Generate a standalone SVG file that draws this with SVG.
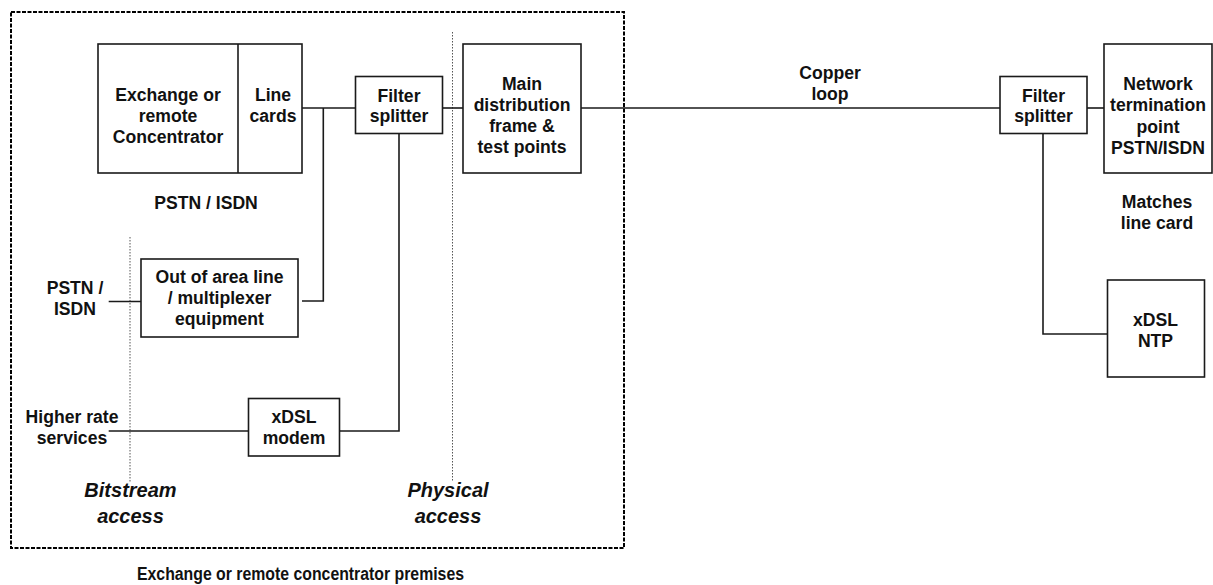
<svg xmlns="http://www.w3.org/2000/svg" width="1213" height="585" viewBox="0 0 1213 585">
<style>
.box{fill:#fff;stroke:#1a1a1a;stroke-width:1.6}
.ln{fill:none;stroke:#1a1a1a;stroke-width:1.6}
.dot{fill:none;stroke:#555;stroke-width:1;stroke-dasharray:1.5 1.5}
.frame{fill:none;stroke:#000;stroke-width:2;stroke-dasharray:4 1.5}
text{font-family:"Liberation Sans",Arial,sans-serif;font-weight:bold;font-size:17.6px;fill:#111;text-anchor:middle}
.it{font-style:italic;font-size:20px}
</style>
<rect class="frame" x="11" y="12" width="613" height="536"/>
<line class="dot" x1="130" y1="237" x2="130" y2="482"/>
<line class="dot" x1="452.5" y1="32" x2="452.5" y2="482"/>
<g id="connectors">
<polyline class="ln" points="302,108 355.5,108"/>
<polyline class="ln" points="323.3,108 323.3,301 302,301"/>
<polyline class="ln" points="443,108 463,108"/>
<polyline class="ln" points="581,108 1000,108"/>
<polyline class="ln" points="1087,108 1104,108"/>
<polyline class="ln" points="1043,133.5 1043,334 1107.5,334"/>
<polyline class="ln" points="399,133.5 399,431 339.5,431"/>
<polyline class="ln" points="108.7,431 248.5,431"/>
<polyline class="ln" points="108.7,301.5 141,301.5"/>
</g>
<g id="exchange">
<rect class="box" x="98" y="44" width="204" height="129"/>
<line class="ln" x1="238" y1="44" x2="238" y2="173"/>
<text x="168" y="100.5">Exchange or</text>
<text x="168" y="121.5">remote</text>
<text x="168" y="142.5">Concentrator</text>
</g>
<g id="linecards">
<text x="273" y="100.5">Line</text>
<text x="273" y="121.5">cards</text>
</g>
<g id="filterL">
<rect class="box" x="355.5" y="76.5" width="87" height="57"/>
<text x="399" y="101.5">Filter</text>
<text x="399" y="122">splitter</text>
</g>
<g id="mdf">
<rect class="box" x="463" y="44" width="118" height="129"/>
<text x="522" y="89.5">Main</text>
<text x="522" y="110.7">distribution</text>
<text x="522" y="131.9">frame &amp;</text>
<text x="522" y="153.1">test points</text>
</g>
<g id="pstn-label"><text x="206" y="208.5">PSTN / ISDN</text></g>
<g id="outarea">
<rect class="box" x="141" y="259" width="157" height="78"/>
<text x="219.5" y="283.3">Out of area line</text>
<text x="219.5" y="304.3">/ multiplexer</text>
<text x="219.5" y="325">equipment</text>
</g>
<g id="pstn-left">
<text x="75" y="294">PSTN /</text>
<text x="75" y="314.7">ISDN</text>
</g>
<g id="higher">
<text x="72" y="423.3">Higher rate</text>
<text x="72" y="443.5">services</text>
</g>
<g id="modem">
<rect class="box" x="248.5" y="398.5" width="91" height="57.5"/>
<text x="294" y="423.3">xDSL</text>
<text x="294" y="444">modem</text>
</g>
<g id="bitstream">
<text class="it" x="130.5" y="497.3">Bitstream</text>
<text class="it" x="130.5" y="522.7">access</text>
</g>
<g id="physical">
<text class="it" x="448" y="497.3">Physical</text>
<text class="it" x="448" y="522.7">access</text>
</g>
<g id="copper">
<text x="830" y="79">Copper</text>
<text x="830" y="99.5">loop</text>
</g>
<g id="filterR">
<rect class="box" x="1000" y="76.5" width="87" height="57"/>
<text x="1043.5" y="101.5">Filter</text>
<text x="1043.5" y="122">splitter</text>
</g>
<g id="ntp">
<rect class="box" x="1104" y="44" width="108" height="129"/>
<text x="1158" y="89.5">Network</text>
<text x="1158" y="111">termination</text>
<text x="1158" y="132.5">point</text>
<text x="1158" y="154">PSTN/ISDN</text>
</g>
<g id="matches">
<text x="1157" y="208.3">Matches</text>
<text x="1157" y="228.5">line card</text>
</g>
<g id="xdslntp">
<rect class="box" x="1107.5" y="280" width="97" height="97"/>
<text x="1155.5" y="325.7">xDSL</text>
<text x="1155.5" y="346.7">NTP</text>
</g>
<g id="premises"><text x="300.5" y="580" font-size="16.5" textLength="327" lengthAdjust="spacingAndGlyphs">Exchange or remote concentrator premises</text></g>
</svg>
